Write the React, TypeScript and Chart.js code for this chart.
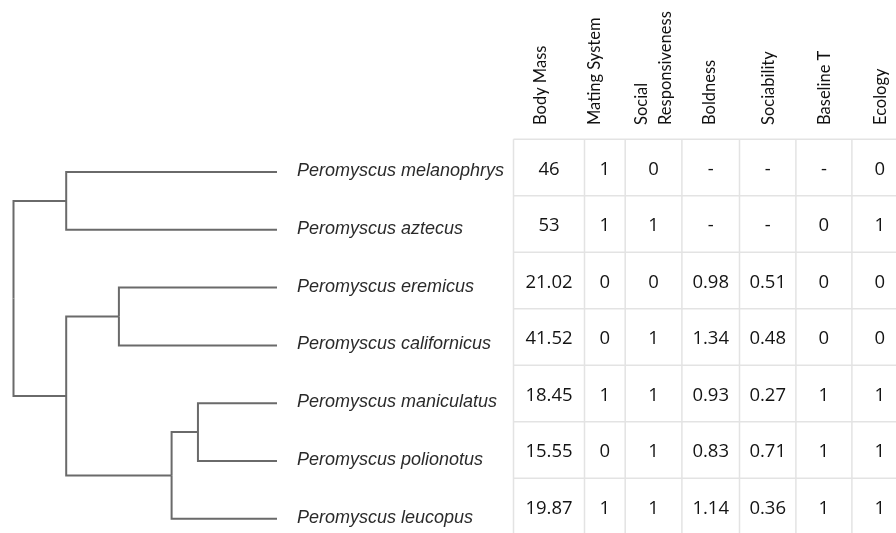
import React, { useEffect, useRef } from "react";
import { Chart, registerables } from "chart.js";

Chart.register(...registerables);

// ---------------- data ----------------
const SPECIES = [
  "Peromyscus melanophrys",
  "Peromyscus aztecus",
  "Peromyscus eremicus",
  "Peromyscus californicus",
  "Peromyscus maniculatus",
  "Peromyscus polionotus",
  "Peromyscus leucopus",
];

// tree: internal nodes with relative depth (root = 0, tips = 1)
const TREE_NODES = [
  { id: "root", parent: null as string | null, depth: 0 },
  { id: "n1", parent: "root", depth: 0.2 },
  { id: "n2", parent: "root", depth: 0.2 },
  { id: "n3", parent: "n2", depth: 0.4 },
  { id: "n4", parent: "n2", depth: 0.6 },
  { id: "n5", parent: "n4", depth: 0.7 },
];
const TIP_PARENTS = ["n1", "n1", "n3", "n3", "n5", "n5", "n4"];
const TIP_DEPTH = 1;

const COLUMN_HEADERS = [
  ["Body Mass"],
  ["Mating System"],
  ["Social", "Responsiveness"],
  ["Boldness"],
  ["Sociability"],
  ["Baseline T"],
  ["Ecology"],
];
const BODY_MASS = [46, 53, 21.02, 41.52, 18.45, 15.55, 19.87];
const MATING_SYSTEM = [1, 1, 0, 0, 1, 0, 1];
const SOCIAL_RESPONSIVENESS = [0, 1, 0, 1, 1, 1, 1];
const BOLDNESS = [null, null, 0.98, 1.34, 0.93, 0.83, 1.14];
const SOCIABILITY = [null, null, 0.51, 0.48, 0.27, 0.71, 0.36];
const BASELINE_T = [null, 0, 0, 0, 1, 1, 1];
const ECOLOGY = [0, 1, 0, 0, 1, 1, 1];

// ---------------- layout ----------------
const W = 896;
const H = 533;
const TREE_LEFT = 13.5;
const TREE_RIGHT = 277;
const TREE_ROW0 = 172;
const TREE_STEP = 57.8;
const TABLE_ROW0 = 167.5;
const TABLE_STEP = 56.5;
const TABLE_LEFT = 513.5;
const COL_WIDTHS = [71, 40.7, 56.7, 57.6, 56.4, 56, 56];
const HEADER_DX = [-8, -10, 0, -1, 1, 1, 1];
const HEADER_BOTTOM = 125;
const NAME_GAP = 20;

function buildTree() {
  const ys: Record<string, number> = {};
  const depth: Record<string, number> = {};
  TREE_NODES.forEach((n) => (depth[n.id] = n.depth));
  const childY = (id: string): number => {
    if (ys[id] !== undefined) return ys[id];
    const vals: number[] = [];
    TIP_PARENTS.forEach((p, i) => {
      if (p === id) vals.push(i);
    });
    TREE_NODES.forEach((n) => {
      if (n.parent === id) vals.push(childY(n.id));
    });
    ys[id] = (Math.min(...vals) + Math.max(...vals)) / 2;
    return ys[id];
  };
  childY("root");
  const edges: { x: number; y: number }[][] = [];
  TREE_NODES.forEach((n) => {
    if (!n.parent) return;
    const p = n.parent;
    edges.push([
      { x: depth[p], y: ys[p] },
      { x: depth[p], y: ys[n.id] },
      { x: n.depth, y: ys[n.id] },
    ]);
  });
  TIP_PARENTS.forEach((p, i) => {
    edges.push([
      { x: depth[p], y: ys[p] },
      { x: depth[p], y: i },
      { x: TIP_DEPTH, y: i },
    ]);
  });
  return edges;
}

const fmt = (v: number | null) => (v === null ? "-" : String(v));

export default function App() {
  const ref = useRef<HTMLCanvasElement | null>(null);

  useEffect(() => {
    if (!ref.current) return;
    const edges = buildTree();
    const columns = [
      BODY_MASS,
      MATING_SYSTEM,
      SOCIAL_RESPONSIVENESS,
      BOLDNESS,
      SOCIABILITY,
      BASELINE_T,
      ECOLOGY,
    ];

    const tablePlugin = {
      id: "phyloTable",
      afterDatasetsDraw(chart: any) {
        const ctx = chart.ctx as CanvasRenderingContext2D;
        const xs = chart.scales.x;
        const yTree = chart.scales.y;
        const yTab = chart.scales.yt;
        ctx.save();
        // species names
        ctx.font = 'italic 18px "Liberation Sans", Arial, sans-serif';
        ctx.fillStyle = "#2a2a2a";
        ctx.textAlign = "left";
        ctx.textBaseline = "middle";
        const nameX = xs.getPixelForValue(TIP_DEPTH) + NAME_GAP;
        SPECIES.forEach((s, i) => {
          ctx.fillText(s, nameX, yTree.getPixelForValue(i) - 1);
        });

        // column edges
        const edgesX: number[] = [TABLE_LEFT];
        COL_WIDTHS.forEach((w) => edgesX.push(edgesX[edgesX.length - 1] + w));

        // grid
        const top = yTab.getPixelForValue(-0.5);
        ctx.strokeStyle = "#e3e3e3";
        ctx.lineWidth = 1.5;
        ctx.beginPath();
        for (let c = 0; c < COL_WIDTHS.length; c++) {
          ctx.moveTo(edgesX[c], top);
          ctx.lineTo(edgesX[c], H);
        }
        for (let r = 0; r < SPECIES.length; r++) {
          const yy = yTab.getPixelForValue(r - 0.5);
          ctx.moveTo(TABLE_LEFT, yy);
          ctx.lineTo(W, yy);
        }
        ctx.stroke();

        // headers
        ctx.font = '16.5px Lato, "Open Sans", sans-serif';
        ctx.fillStyle = "#111";
        COLUMN_HEADERS.forEach((lines, c) => {
          const cx = (edgesX[c] + edgesX[c + 1]) / 2 + HEADER_DX[c];
          lines.forEach((t, li) => {
            const off = (li - (lines.length - 1) / 2) * 24;
            ctx.save();
            ctx.translate(cx + off, HEADER_BOTTOM);
            ctx.rotate(-Math.PI / 2);
            ctx.textAlign = "left";
            ctx.textBaseline = "middle";
            ctx.fillText(t, 0, 0);
            ctx.restore();
          });
        });

        // cells
        ctx.font = '18.5px "Open Sans", Lato, sans-serif';
        ctx.fillStyle = "#141414";
        ctx.textAlign = "center";
        ctx.textBaseline = "middle";
        columns.forEach((col, c) => {
          const cx = (edgesX[c] + edgesX[c + 1]) / 2;
          col.forEach((v, r) => {
            ctx.fillText(fmt(v as number | null), cx, yTab.getPixelForValue(r) + 2);
          });
        });
        ctx.restore();
      },
    };

    const span = TREE_RIGHT - TREE_LEFT;
    const chart = new Chart(ref.current, {
      type: "scatter",
      data: {
        datasets: edges.map((pts) => ({
          data: pts,
          showLine: true,
          borderColor: "#6a6a6a",
          borderWidth: 2,
          pointRadius: 0,
          borderJoinStyle: "miter" as const,
          borderCapStyle: "butt" as const,
          tension: 0,
          xAxisID: "x",
          yAxisID: "y",
        })),
      },
      options: {
        animation: false,
        responsive: false,
        layout: { padding: 0 },
        plugins: {
          legend: { display: false },
          tooltip: { enabled: false },
        },
        scales: {
          x: {
            type: "linear",
            display: false,
            min: -TREE_LEFT / span,
            max: (W - TREE_LEFT) / span,
          },
          y: {
            type: "linear",
            display: false,
            reverse: true,
            min: -TREE_ROW0 / TREE_STEP,
            max: (H - TREE_ROW0) / TREE_STEP,
          },
          yt: {
            type: "linear",
            display: false,
            reverse: true,
            min: -TABLE_ROW0 / TABLE_STEP,
            max: (H - TABLE_ROW0) / TABLE_STEP,
          },
        },
      },
      plugins: [tablePlugin],
    });
    return () => chart.destroy();
  }, []);

  return (
    <div style={{ position: "absolute", left: 0, top: 0, width: W, height: H, background: "#fff" }}>
      <canvas ref={ref} width={W} height={H} style={{ width: W, height: H, display: "block" }} />
    </div>
  );
}
